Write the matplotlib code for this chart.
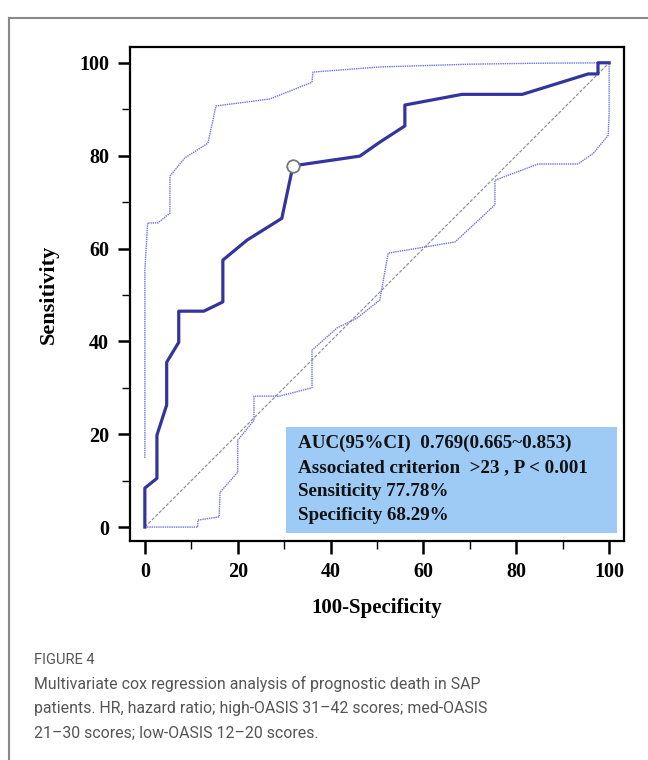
import matplotlib
matplotlib.use('Agg')
from matplotlib import pyplot as plt
from matplotlib.patches import Rectangle
from matplotlib.lines import Line2D

# ROC curve
roc_x = [0, 0, 2.6, 2.6, 4.7, 4.7, 7.3, 7.3, 12.7, 16.8, 16.8, 22, 29.5, 31.9, 46.3, 50.6, 56, 56, 68.3, 81.3, 95.5, 97.6, 97.6, 100]
roc_y = [0, 8.4, 10.5, 19.8, 26.3, 35.5, 39.8, 46.5, 46.5, 48.5, 57.5, 61.8, 66.5, 77.8, 79.9, 82.9, 86.4, 90.9, 93.2, 93.2, 97.6, 97.6, 100, 100]
# upper / lower 95% CI bands
up_x = [0, 0, 0.6, 2.8, 5.4, 5.4, 8.6, 13.6, 15.3, 26.9, 36, 36.2, 50.6, 70, 84, 100]
up_y = [14.9, 55.3, 65.5, 65.5, 67.6, 75.6, 79.5, 82.7, 90.7, 92.2, 95.8, 98, 99.1, 99.7, 99.9, 100]
lo_x = [0, 11.4, 11.4, 16, 16.2, 20, 20, 23.5, 23.5, 29, 36, 36, 41.4, 45.7, 50.6, 52.4, 66.8, 75.4, 75.4, 84.7, 93.3, 96.6, 99.8, 100, 100]
lo_y = [0, 0, 1.5, 2.2, 7.5, 11.8, 18.7, 23, 28.2, 28.2, 30, 38.1, 42.9, 45, 48.9, 59, 61.4, 69.4, 74.7, 78.2, 78.2, 80.5, 84.4, 89.2, 100]
# optimal cut-off point
cut_x, cut_y = 31.9, 77.8
ticks = [0, 20, 40, 60, 80, 100]
info_lines = ['AUC(95%CI)  0.769(0.665~0.853)',
              'Associated criterion  >23 , P < 0.001',
              'Sensiticity 77.78%',
              'Specificity 68.29%']
caption_title = 'FIGURE 4'
caption_lines = ['Multivariate cox regression analysis of prognostic death in SAP',
                 'patients. HR, hazard ratio; high-OASIS 31\u201342 scores; med-OASIS',
                 '21\u201330 scores; low-OASIS 12\u201320 scores.']

W, H = 648, 760
fig = plt.figure(figsize=(W / 100, H / 100), dpi=100)
ax = fig.add_axes([130 / W, 1 - 541 / H, 494 / W, 494 / H])

serif = 'Liberation Serif'

ax.plot([0, 100], [0, 100], color='#888888', lw=0.8, ls=(0, (3, 1.5)), zorder=2)
ax.plot(up_x, up_y, color='#7070e2', lw=1.0, ls=(0, (1, 0.6)), zorder=3)
ax.plot(lo_x, lo_y, color='#7070e2', lw=1.0, ls=(0, (1, 0.6)), zorder=3)
ax.plot(roc_x, roc_y, color='#34349e', lw=2.3, zorder=4)
ax.plot([cut_x], [cut_y], 'o', ms=9, mfc='white', mec='#777777', mew=1.3, zorder=5)

ax.set_xlim(-3.2, 103.2)
ax.set_ylim(-3.0, 103.4)
ax.set_xticks(ticks)
ax.set_yticks(ticks)
ax.set_xticks(range(10, 100, 20), minor=True)
ax.set_yticks(range(10, 100, 20), minor=True)
ax.tick_params(which='major', length=9, width=1.8, labelsize=14.5, pad=6)
ax.tick_params(which='minor', length=5.5, width=1.0)
for lab in ax.get_xticklabels() + ax.get_yticklabels():
    lab.set_fontfamily(serif)
    lab.set_fontweight('bold')
for s in ax.spines.values():
    s.set_linewidth(1.6)

ax.set_xlabel('100-Specificity', fontfamily=serif, fontweight='bold', fontsize=15, labelpad=12)
ax.set_ylabel('Sensitivity', fontfamily=serif, fontweight='bold', fontsize=16, labelpad=15)

# info box
ax.add_patch(Rectangle((30.4, -1.3), 71.3, 22.8, facecolor='#9dcbf6', edgecolor='none', zorder=6))
for i, t in enumerate(info_lines):
    ax.text(33.0, 18.0 - i * 5.17, t, fontfamily=serif, fontweight='bold', fontsize=13.7,
            color='#111111', va='center', ha='left', zorder=7)

# page frame
fig.add_artist(Line2D([9 / W, 9 / W], [0, 1 - 18 / H], transform=fig.transFigure, color='#8a8a8a', lw=1.5))
fig.add_artist(Line2D([9 / W, 1], [1 - 18 / H, 1 - 18 / H], transform=fig.transFigure, color='#8a8a8a', lw=1.5))

fig.text(34 / W, 1 - 660 / H, caption_title, fontfamily='Roboto', fontsize=10.5, color='#555555', va='center')
for i, t in enumerate(caption_lines):
    fig.text(34 / W, 1 - (684 + i * 24.5) / H, t, fontfamily='Roboto', fontsize=11.4,
             color='#555555', va='center')

fig.savefig('out.png', dpi=100)
